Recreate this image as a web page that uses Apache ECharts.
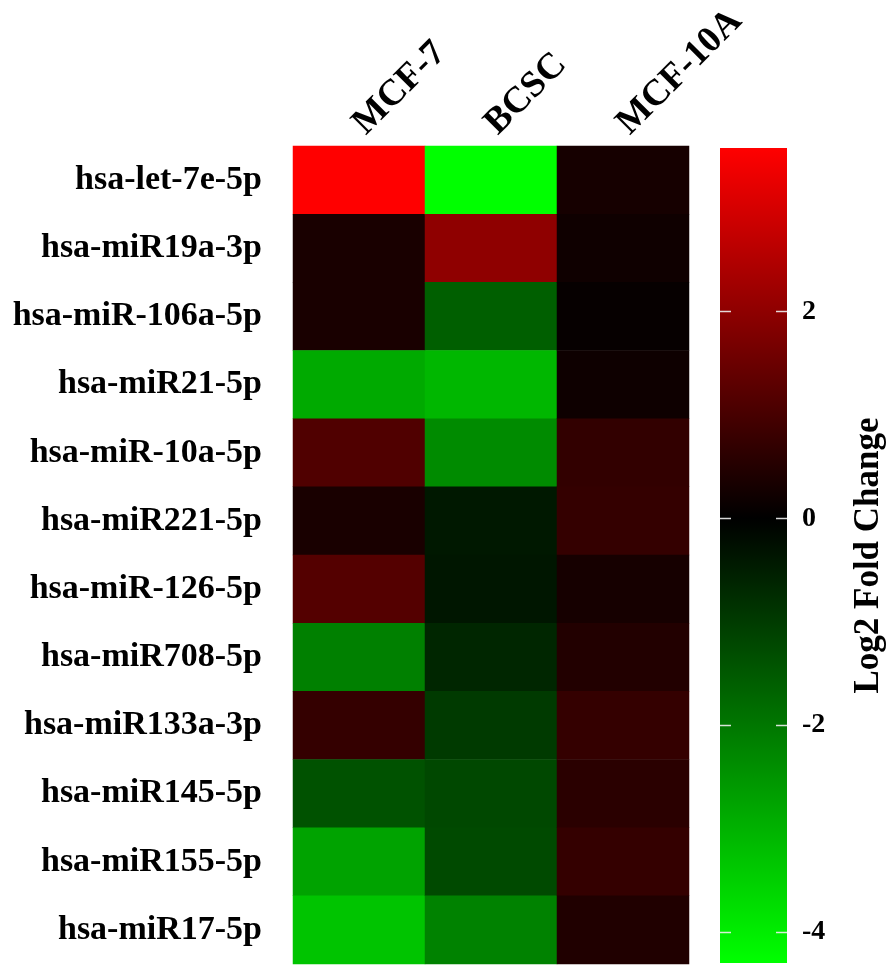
<!DOCTYPE html>
<html>
<head>
<meta charset="utf-8">
<script src="https://cdn.jsdelivr.net/npm/echarts@6/dist/echarts.min.js"></script>
<style>
html,body{margin:0;padding:0;background:#fff;}
#chart{width:888px;height:967px;}
</style>
</head>
<body>
<div id="chart"></div>
<script>
const samples = ['MCF-7', 'BCSC', 'MCF-10A'];
const mirnas = ['hsa-let-7e-5p', 'hsa-miR19a-3p', 'hsa-miR-106a-5p', 'hsa-miR21-5p', 'hsa-miR-10a-5p',
  'hsa-miR221-5p', 'hsa-miR-126-5p', 'hsa-miR708-5p', 'hsa-miR133a-3p', 'hsa-miR145-5p',
  'hsa-miR155-5p', 'hsa-miR17-5p'];
const mcf7Values   = [3.58, 0.34, 0.34, -2.87, 1.12, 0.34, 1.18, -2.16, 0.73, -1.38, -2.75, -3.31];
const bcscValues   = [-4.30, 2.01, -1.60, -3.09, -2.33, -0.40, -0.37, -0.64, -0.98, -1.21, -1.25, -2.19];
const mcf10aValues = [0.31, 0.21, 0.08, 0.20, 0.70, 0.73, 0.31, 0.48, 0.73, 0.59, 0.73, 0.45];
const scaleMin = -4.30;
const scaleMax = 3.58;
const scaleTicks = [-4, -2, 0, 2];
const legendTitle = 'Log2 Fold Change';

const columns = [mcf7Values, bcscValues, mcf10aValues];
const data = [];
columns.forEach((col, xi) => col.forEach((v, yi) => data.push([xi, yi, v])));

function colorAt(v) {
  if (v >= 0) {
    const r = Math.round(255 * Math.min(1, v / scaleMax));
    return 'rgb(' + r + ',0,0)';
  }
  const g = Math.round(255 * Math.min(1, v / scaleMin));
  return 'rgb(0,' + g + ',0)';
}
const N = 200;
const rampColors = [];
for (let i = 0; i < N; i++) {
  rampColors.push(colorAt(scaleMin + (scaleMax - scaleMin) * i / (N - 1)));
}
const zeroOffset = scaleMax / (scaleMax - scaleMin);

const font = 'Liberation Serif, Times New Roman, serif';
const TICK_LEN = 11;
const chart = echarts.init(document.getElementById('chart'), null, {renderer: 'canvas'});
chart.setOption({
  animation: false,
  backgroundColor: '#fff',
  grid: [
    {left: 293, top: 146, width: 396, height: 818, containLabel: false},
    {left: 720, top: 148, width: 67, height: 815, show: true, borderWidth: 0,
     backgroundColor: new echarts.graphic.LinearGradient(0, 0, 0, 1, [
       {offset: 0, color: '#ff0000'},
       {offset: zeroOffset, color: '#000000'},
       {offset: 1, color: '#00ff00'}
     ])}
  ],
  xAxis: [
    {type: 'category', gridIndex: 0, data: samples, position: 'top',
     axisLine: {show: false}, axisTick: {show: false}, splitLine: {show: false},
     axisLabel: {rotate: -45, margin: 17, fontFamily: font, fontWeight: 'bold', fontSize: 37, color: '#000'}},
    {type: 'value', gridIndex: 1, show: false, min: 0, max: 1}
  ],
  yAxis: [
    {type: 'category', gridIndex: 0, data: mirnas, inverse: true,
     axisLine: {show: false}, axisTick: {show: false}, splitLine: {show: false},
     axisLabel: {margin: 31, fontFamily: font, fontWeight: 'bold', fontSize: 34, color: '#000'}},
    {type: 'value', gridIndex: 1, position: 'right', min: scaleMin, max: scaleMax,
     axisLine: {show: false}, splitLine: {show: false}, axisTick: {show: false},
     axisLabel: {margin: 15, customValues: scaleTicks, fontFamily: font, fontWeight: 'bold', fontSize: 28, color: '#000'},
     name: legendTitle, nameLocation: 'middle', nameRotate: 90, nameGap: 64,
     nameTextStyle: {fontFamily: font, fontWeight: 'bold', fontSize: 35, color: '#000'}}
  ],
  visualMap: {
    show: false, type: 'continuous', seriesIndex: 0, dimension: 2,
    min: scaleMin, max: scaleMax, inRange: {color: rampColors}
  },
  series: [
    {
      type: 'heatmap', xAxisIndex: 0, yAxisIndex: 0, data: data,
      itemStyle: {borderWidth: 0},
      emphasis: {disabled: true}
    },
    {
      type: 'custom', xAxisIndex: 1, yAxisIndex: 1, z: 10, silent: true,
      data: scaleTicks.map(v => [0, v]),
      encode: {x: 0, y: 1},
      renderItem: function (params, api) {
        const cs = params.coordSys;
        const y = Math.round(api.coord([0, api.value(1)])[1]) + 0.5;
        const style = {stroke: 'rgba(238,238,238,0.9)', lineWidth: 1.5};
        return {
          type: 'group',
          children: [
            {type: 'line', shape: {x1: cs.x, y1: y, x2: cs.x + TICK_LEN, y2: y}, style: style},
            {type: 'line', shape: {x1: cs.x + cs.width - TICK_LEN, y1: y, x2: cs.x + cs.width, y2: y}, style: style}
          ]
        };
      }
    }
  ]
});
</script>
</body>
</html>
